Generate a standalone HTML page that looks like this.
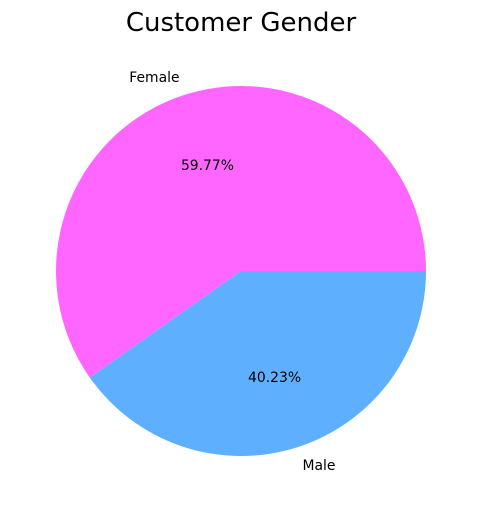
<!DOCTYPE html>
<html><head><meta charset="utf-8"><style>
html,body{margin:0;padding:0;background:#fff;}
svg text{font-family:"DejaVu Sans","Liberation Sans",sans-serif;}
</style></head><body>
<svg id="chart" width="481" height="512" viewBox="0 0 481 512" xmlns="http://www.w3.org/2000/svg">
<text x="241" y="31" text-anchor="middle" font-size="26" fill="#000">Customer Gender</text>
<g id="slices"></g>
</svg>
<script>
const categories = ["Female", "Male"];
const values = [59.77, 40.23];
const pctLabels = ["59.77%", "40.23%"];
const colors = ["#ff66ff", "#5eb0ff"];
const cx = 241, cy = 271, r = 185;
const svg = document.getElementById('slices');
const ns = 'http://www.w3.org/2000/svg';
const total = values.reduce((a,b)=>a+b,0);
let start = 0;
values.forEach((v,i)=>{
  const sweep = v/total*2*Math.PI;
  const end = start + sweep;
  const x1 = cx + r*Math.cos(start), y1 = cy - r*Math.sin(start);
  const x2 = cx + r*Math.cos(end), y2 = cy - r*Math.sin(end);
  const large = sweep > Math.PI ? 1 : 0;
  const p = document.createElementNS(ns,'path');
  p.setAttribute('d',`M${cx},${cy} L${x1},${y1} A${r},${r} 0 ${large} 0 ${x2},${y2} Z`);
  p.setAttribute('fill',colors[i]);
  
  
  svg.appendChild(p);
  const mid = start + sweep/2;
  const c = Math.cos(mid), s = Math.sin(mid);
  const lt = document.createElementNS(ns,'text');
  lt.setAttribute('x', cx + 1.1*r*c);
  lt.setAttribute('y', cy - 1.1*r*s + 5);
  lt.setAttribute('text-anchor', c < 0 ? 'end' : 'start');
  lt.setAttribute('font-size','13.9');
  lt.textContent = categories[i];
  
  
  svg.appendChild(lt);
  const pt = document.createElementNS(ns,'text');
  pt.setAttribute('x', cx + 0.6*r*c);
  pt.setAttribute('y', cy - 0.6*r*s + 5);
  pt.setAttribute('text-anchor','middle');
  pt.setAttribute('font-size','13.9');
  pt.textContent = pctLabels[i];
  
  
  svg.appendChild(pt);
  start = end;
});
</script>
</body></html>
